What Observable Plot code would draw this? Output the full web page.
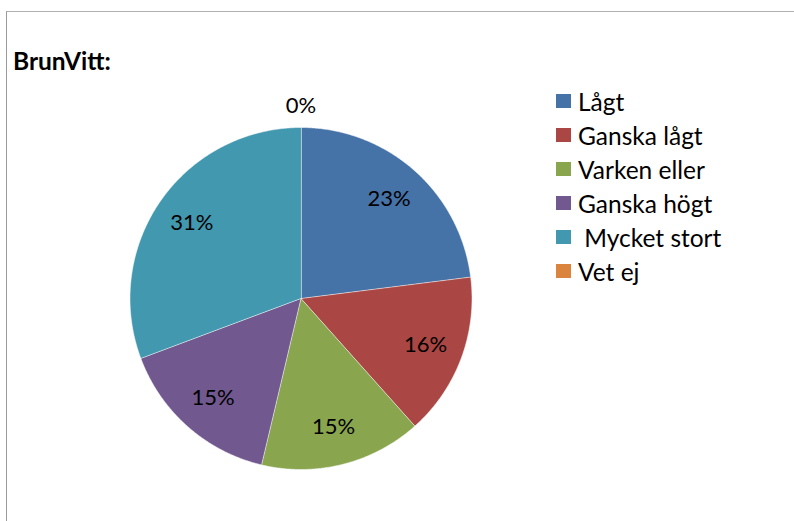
<!DOCTYPE html>
<html><head><meta charset="utf-8">
<script src="https://cdn.jsdelivr.net/npm/d3@7"></script>
<script src="https://cdn.jsdelivr.net/npm/@observablehq/plot@0.6"></script>
<style>
body{margin:0;background:#fff;font-family:Lato,"Open Sans",sans-serif;}
#wrap{position:relative;width:794px;height:521px;overflow:hidden;}
#frame{position:absolute;left:6px;top:11px;width:800px;height:520px;border-left:1px solid #9a9a9a;border-top:1px solid #b0b0b0;}
#title{position:absolute;left:13px;top:46px;font-weight:bold;font-size:24.5px;color:#000;}
#legend{position:absolute;left:556px;top:84px;}
.row{display:flex;align-items:center;height:34px;font-size:24.5px;color:#000;white-space:pre;}
.sw{width:15px;height:14px;margin-right:7px;}
#chart{position:absolute;left:0;top:0;}
</style></head>
<body><div id="wrap"><div id="frame"></div><div id="title">BrunVitt:</div><div id="legend"></div><div id="chart"></div></div>
<script>
const categories = ["Lågt","Ganska lågt","Varken eller","Ganska högt"," Mycket stort","Vet ej"];
const values = [23.0,15.4,15.3,15.6,30.7,0];
// data labels as printed on the chart
const valueLabels = ["23%","16%","15%","15%","31%","0%"];
const colors = ["#4572A7","#AA4643","#89A54E","#71588F","#4198AF","#DB843D"];

const cx = 300.5, cy = 298, R = 171;
const data = categories.map((c,i)=>({cat:c, v:values[i], label:valueLabels[i]}));
const arcs = d3.pie().sort(null).value(d=>d.v)(data);
const pts = [];
for (const a of arcs) {
  if (a.endAngle - a.startAngle <= 0) continue;
  pts.push({cat:a.data.cat, x:cx, y:cy});
  const n = Math.max(2, Math.ceil((a.endAngle-a.startAngle)/(Math.PI/360)));
  for (let k=0;k<=n;k++){
    const t = a.startAngle + (a.endAngle-a.startAngle)*k/n;
    pts.push({cat:a.data.cat, x:cx+R*Math.sin(t), y:cy-R*Math.cos(t)});
  }
}
const labels = arcs.map(a=>{
  const m=(a.startAngle+a.endAngle)/2;
  const r = a.data.v===0 ? 193 : 133;
  return {text:a.data.label, x:cx+r*Math.sin(m), y:cy-r*Math.cos(m)};
});

const plot = Plot.plot({
  width:794, height:521, margin:0,
  x:{domain:[0,794], range:[0,794], axis:null},
  y:{domain:[0,521], range:[0,521], axis:null},
  color:{domain:categories, range:colors},
  style:{background:"transparent"},
  marks:[
    Plot.line(pts,{x:"x",y:"y",z:"cat",fill:"cat",stroke:"#ffffff",strokeWidth:0.5,curve:"linear-closed"}),
    Plot.text(labels,{x:"x",y:"y",text:"text",fontSize:22,fill:"#000",fontFamily:"Lato, 'Open Sans', sans-serif"})
  ]
});
document.getElementById("chart").appendChild(plot);

const lg = document.getElementById("legend");
categories.forEach((c,i)=>{
  const row=document.createElement("div");row.className="row";
  const sw=document.createElement("div");sw.className="sw";sw.style.background=colors[i];
  const t=document.createElement("span");t.textContent=c;
  row.appendChild(sw);row.appendChild(t);lg.appendChild(row);
});
</script></body></html>
